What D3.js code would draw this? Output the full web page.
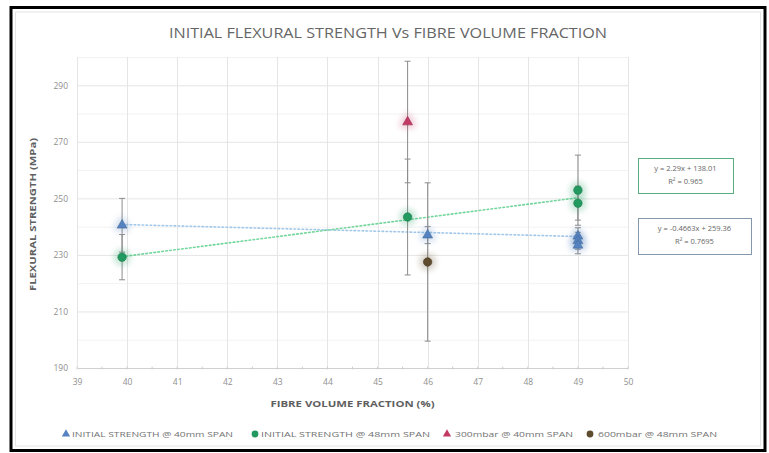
<!DOCTYPE html>
<html>
<head>
<meta charset="utf-8">
<script src="https://cdn.jsdelivr.net/npm/d3@7"></script>
<style>
  html, body { margin: 0; padding: 0; background: #fff; }
  svg { display: block; }
</style>
</head>
<body>
<svg id="chart" width="769" height="453"></svg>
<script>
// ---- data ----
const xTicks = [39, 40, 41, 42, 43, 44, 45, 46, 47, 48, 49, 50];
const yTicks = [190, 210, 230, 250, 270, 290];

const span40X = [39.9, 46, 49, 49, 49];
const span40Y = [240.5, 237.0, 236.6, 235.0, 233.4];
const span40Err = [9.5, 3, 3, 3, 3];

const span48X = [39.9, 45.6, 49, 49];
const span48Y = [229.2, 243.4, 252.9, 248.3];
const span48Err = [8, 20.5, 12.4, 6];

const mbar300X = [45.6];
const mbar300Y = [277];
const mbar300Err = [21.5];

const mbar600X = [46];
const mbar600Y = [227.5];
const mbar600Err = [28];

// linear trendlines (slope, intercept, R²)
const trend48 = { m: 2.29, b: 138.01, r2: "0.965", label: "y = 2.29x + 138.01" };
const trend40 = { m: -0.4663, b: 259.36, r2: "0.7695", label: "y = -0.4663x + 259.36" };

const legendLabels = [
  "INITIAL STRENGTH @ 40mm SPAN",
  "INITIAL STRENGTH @ 48mm SPAN",
  "300mbar @ 40mm SPAN",
  "600mbar @ 48mm SPAN"
];

// ---- drawing ----
const svg = d3.select("#chart");
const font = "'Open Sans', 'DejaVu Sans', sans-serif";
const plot = { left: 77, right: 628, top: 57, bottom: 368 };

const x = d3.scaleLinear().domain([39, 50]).range([plot.left, plot.right]);
const y = d3.scaleLinear().domain([190, 300]).range([plot.bottom, plot.top]);

const colors = {
  blue: "#5582c0",
  green: "#22995e",
  pink: "#c23a63",
  brown: "#5e4a2c",
  blueTrend: "#a3c8ea",
  greenTrend: "#72d69c"
};

// glow filter for markers
const defs = svg.append("defs");
const glow = defs.append("filter").attr("id", "glow")
  .attr("x", "-100%").attr("y", "-100%").attr("width", "300%").attr("height", "300%");
glow.append("feGaussianBlur").attr("in", "SourceGraphic").attr("stdDeviation", 2.2).attr("result", "b");
const merge = glow.append("feMerge");
merge.append("feMergeNode").attr("in", "b");
merge.append("feMergeNode").attr("in", "b");

// chart frame
svg.append("rect").attr("x", 11).attr("y", 7.5).attr("width", 754).attr("height", 443)
  .attr("fill", "#fff").attr("stroke", "#000").attr("stroke-width", 3);
svg.append("rect").attr("x", 15.5).attr("y", 12).attr("width", 745).attr("height", 434)
  .attr("fill", "none").attr("stroke", "#e4e4e4").attr("stroke-width", 1);

// title
svg.append("text").attr("x", 388).attr("y", 38).attr("text-anchor", "middle")
  .attr("font-family", font).attr("font-size", 14).attr("fill", "#666666")
  .attr("textLength", 438).attr("lengthAdjust", "spacingAndGlyphs")
  .text("INITIAL FLEXURAL STRENGTH Vs FIBRE VOLUME FRACTION");

// minor horizontal gridlines
const gMinor = svg.append("g");
gMinor.selectAll("line").data(d3.range(200, 301, 20)).join("line")
  .attr("x1", plot.left).attr("x2", plot.right)
  .attr("y1", d => y(d) + 0.5).attr("y2", d => y(d) + 0.5)
  .attr("stroke", "#f2f2f2").attr("stroke-width", 1);

// major gridlines
const gGrid = svg.append("g");
gGrid.selectAll("line.h").data(yTicks.filter(d => d > 190)).join("line").attr("class", "h")
  .attr("x1", plot.left).attr("x2", plot.right)
  .attr("y1", d => y(d) + 0.5).attr("y2", d => y(d) + 0.5)
  .attr("stroke", "#e5e5e5").attr("stroke-width", 1);
gGrid.selectAll("line.v").data(xTicks).join("line").attr("class", "v")
  .attr("x1", d => Math.round(x(d)) + 0.5).attr("x2", d => Math.round(x(d)) + 0.5)
  .attr("y1", plot.top).attr("y2", plot.bottom)
  .attr("stroke", "#e5e5e5").attr("stroke-width", 1);

// x axis (at 190) with minor ticks
const xAxis = d3.axisBottom(x).tickValues(xTicks).tickSize(0).tickPadding(11)
  .tickFormat(d3.format("d"));
const gx = svg.append("g").attr("transform", `translate(0,${plot.bottom})`).call(xAxis);
gx.select(".domain").attr("stroke", "#d0d0d0");
gx.selectAll("text").attr("font-family", font).attr("font-size", 8.5).attr("fill", "#8f8f8f");
svg.append("g").selectAll("line").data(d3.range(39, 50.01, 0.5)).join("line")
  .attr("x1", d => x(d)).attr("x2", d => x(d))
  .attr("y1", plot.bottom - 1.5).attr("y2", plot.bottom + 1.5)
  .attr("stroke", "#cfcfcf");

// y axis labels
const yAxis = d3.axisLeft(y).tickValues(yTicks).tickSize(0).tickPadding(9)
  .tickFormat(d3.format("d"));
const gy = svg.append("g").attr("transform", `translate(${plot.left},0)`).call(yAxis);
gy.select(".domain").remove();
gy.selectAll("text").attr("font-family", font).attr("font-size", 8.5).attr("fill", "#8f8f8f");

// axis titles
svg.append("text").attr("x", (plot.left + plot.right) / 2).attr("y", 407)
  .attr("text-anchor", "middle").attr("font-family", font).attr("font-size", 8.5)
  .attr("font-weight", "bold").attr("fill", "#5f5f5f")
  .attr("textLength", 164).attr("lengthAdjust", "spacingAndGlyphs")
  .text("FIBRE VOLUME FRACTION (%)");
svg.append("text").attr("transform", `translate(36,${(137 + 292) / 2}) rotate(-90)`)
  .attr("text-anchor", "middle").attr("font-family", font).attr("font-size", 8.5)
  .attr("font-weight", "bold").attr("fill", "#5f5f5f")
  .attr("textLength", 153).attr("lengthAdjust", "spacingAndGlyphs")
  .text("FLEXURAL STRENGTH (MPa)");

// trendlines
function drawTrend(t, xs, color) {
  const x0 = d3.min(xs), x1 = d3.max(xs);
  svg.append("line")
    .attr("x1", x(x0)).attr("y1", y(t.m * x0 + t.b))
    .attr("x2", x(x1)).attr("y2", y(t.m * x1 + t.b))
    .attr("stroke", color).attr("stroke-width", 1.6)
    .attr("stroke-dasharray", "1.6,2.4").attr("stroke-linecap", "round");
}
drawTrend(trend40, span40X, colors.blueTrend);
drawTrend(trend48, span48X, colors.greenTrend);

// error bars
function drawErr(xs, ys, es) {
  const g = svg.append("g").attr("stroke", "#8c8c8c").attr("stroke-width", 1);
  xs.forEach((xv, i) => {
    const top = Math.min(ys[i] + es[i], 300), bot = ys[i] - es[i];
    const cx = x(xv);
    g.append("line").attr("x1", cx).attr("x2", cx).attr("y1", y(top)).attr("y2", y(bot));
    if (ys[i] + es[i] <= 300)
      g.append("line").attr("x1", cx - 3).attr("x2", cx + 3).attr("y1", y(top)).attr("y2", y(top));
    g.append("line").attr("x1", cx - 3).attr("x2", cx + 3).attr("y1", y(bot)).attr("y2", y(bot));
  });
}
drawErr(span40X, span40Y, span40Err);
drawErr(span48X, span48Y, span48Err);
drawErr(mbar300X, mbar300Y, mbar300Err);
drawErr(mbar600X, mbar600Y, mbar600Err);

// markers
const tri = d3.symbol().type(d3.symbolTriangle).size(42);
const dot = d3.symbol().type(d3.symbolCircle).size(56);
function drawMarkers(xs, ys, sym, color) {
  const g = svg.append("g");
  const pts = xs.map((xv, i) => [x(xv), y(ys[i])]);
  g.selectAll("path.glow").data(pts).join("path").attr("class", "glow")
    .attr("d", sym).attr("transform", d => `translate(${d[0]},${d[1]}) scale(1.6)`)
    .attr("fill", color).attr("opacity", 0.25).attr("filter", "url(#glow)");
  g.selectAll("path.mk").data(pts).join("path").attr("class", "mk")
    .attr("d", sym).attr("transform", d => `translate(${d[0]},${d[1]})`)
    .attr("fill", color).attr("stroke", d3.color(color).darker(0.6)).attr("stroke-width", 0.6);
}
drawMarkers(span40X, span40Y, tri, colors.blue);
drawMarkers(span48X, span48Y, dot, colors.green);
drawMarkers(mbar300X, mbar300Y, tri, colors.pink);
drawMarkers(mbar600X, mbar600Y, dot, colors.brown);

// trendline labels
function trendBox(t, bx, by, bw, bh, stroke) {
  svg.append("rect").attr("x", bx + 0.5).attr("y", by + 0.5).attr("width", bw).attr("height", bh)
    .attr("fill", "#fff").attr("stroke", stroke).attr("stroke-width", 1);
  const cx = bx + bw / 2;
  svg.append("text").attr("x", cx).attr("y", by + 13).attr("text-anchor", "middle")
    .attr("font-family", font).attr("font-size", 7.5).attr("fill", "#666").text(t.label);
  svg.append("text").attr("x", cx).attr("y", by + 26).attr("text-anchor", "middle")
    .attr("font-family", font).attr("font-size", 7.5).attr("fill", "#666")
    .text("R\u00B2 = " + t.r2);
}
trendBox(trend48, 638, 158, 95, 35, "#5aae80");
trendBox(trend40, 638, 218, 113, 36, "#8498ad");

// legend
const legendItems = [
  { label: legendLabels[0], sym: tri, color: colors.blue, mx: 66, tx: 72, tw: 161 },
  { label: legendLabels[1], sym: dot, color: colors.green, mx: 255, tx: 261, tw: 169 },
  { label: legendLabels[2], sym: tri, color: colors.pink, mx: 447, tx: 455, tw: 118 },
  { label: legendLabels[3], sym: dot, color: colors.brown, mx: 590, tx: 598, tw: 119 }
];
const ly = 437;
const gl = svg.append("g");
legendItems.forEach(it => {
  gl.append("path").attr("d", it.sym.size(it.sym === tri ? 30 : 36)())
    .attr("transform", `translate(${it.mx},${ly - 3})`).attr("fill", it.color);
  gl.append("text").attr("x", it.tx).attr("y", ly).attr("font-family", font)
    .attr("font-size", 7.5).attr("fill", "#737373")
    .attr("textLength", it.tw).attr("lengthAdjust", "spacingAndGlyphs").text(it.label);
});
</script>
</body>
</html>
